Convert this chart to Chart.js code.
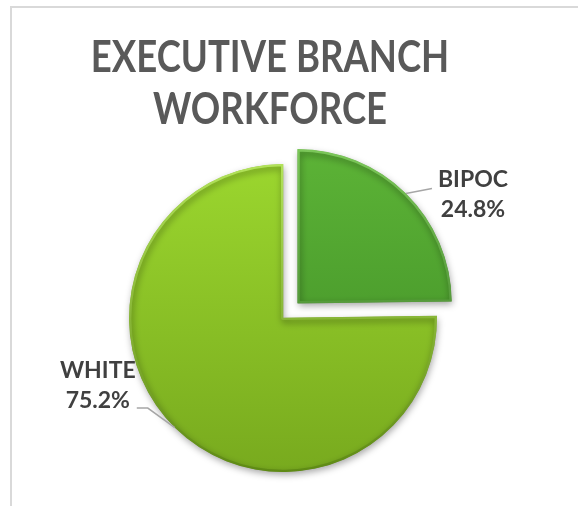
<!DOCTYPE html>
<html>
<head>
<meta charset="utf-8">
<script src="https://cdn.jsdelivr.net/npm/chart.js@4.4.0/dist/chart.umd.min.js"></script>
<style>
    html, body { margin: 0; padding: 0; background: #fff; overflow: hidden; }
    #frame {
        position: absolute; left: 10px; top: 6px;
        width: 700px; height: 700px;
        border: 2px solid #d9d9d9;
    }
    #workforceChart { position: absolute; left: 0; top: 0; }
</style>
</head>
<body>
<div id="frame"></div>
<canvas id="workforceChart" width="578" height="506"></canvas>
<script>
// DATA
const categories = ['BIPOC', 'WHITE'];
const shares = [24.8, 75.2];
const titleLines = ['EXECUTIVE BRANCH', 'WORKFORCE'];

// colours (top / bottom of fill gradient, top / bottom of rim)
const sliceTop = ['#5cb336', '#9bd62e'];
const sliceBottom = ['#3f8c26', '#78aa1e'];
const rimTop = ['#7cc75a', '#b2e25a'];
const rimBottom = ['#2f6e1c', '#5e8a14'];
const PIE_RADIUS = 154;

// label placement, relative to the point on the slice edge
const labelSetup = [
    { elbow: [26, -5], tail: [0, 0], text: [67, -6] },
    { elbow: [-27, -19.5], tail: [-11, 0], text: [-77, -49.5] }
];

function verticalGradient(context, top, bottom) {
    const chart = context.chart;
    const area = chart.chartArea;
    const i = context.dataIndex;
    if (!area) return top[i];
    const cy = (area.top + area.bottom) / 2;
    const g = chart.ctx.createLinearGradient(0, cy - PIE_RADIUS, 0, cy + PIE_RADIUS);
    g.addColorStop(0, top[i]);
    g.addColorStop(1, bottom[i]);
    return g;
}

// two-line title, a bit condensed like the original face
const titlePlugin = {
    id: 'condensedTitle',
    afterDraw(chart) {
        const ctx = chart.ctx;
        ctx.save();
        ctx.fillStyle = '#595959';
        ctx.font = 'bold 44px Lato';
        ctx.textAlign = 'center';
        ctx.textBaseline = 'alphabetic';
        ctx.translate(270, 0);
        ctx.scale(0.83, 1);
        titleLines.forEach((line, i) => {
            ctx.fillText(line, 0, 72 + i * 52);
        });
        ctx.restore();
    }
};

// soft drop shadow under the pie
const shadowPlugin = {
    id: 'pieShadow',
    beforeDatasetsDraw(chart) {
        const ctx = chart.ctx;
        ctx.save();
        ctx.shadowColor = 'rgba(0,0,0,0.35)';
        ctx.shadowBlur = 7;
        ctx.shadowOffsetX = 1;
        ctx.shadowOffsetY = 3;
    },
    afterDatasetsDraw(chart) {
        chart.ctx.restore();
    }
};

// outside labels with leader lines
const labelPlugin = {
    id: 'outsideLabels',
    afterDraw(chart) {
        const ctx = chart.ctx;
        const meta = chart.getDatasetMeta(0);
        meta.data.forEach((arc, i) => {
            const p = arc.getProps(['x', 'y', 'startAngle', 'endAngle', 'outerRadius', 'circumference'], true);
            const mid = (p.startAngle + p.endAngle) / 2;
            // same shift Chart.js applies to an offset arc
            const off = (arc.options.offset || 0) / 4;
            const fix = 1 - Math.sin(Math.min(Math.PI, p.circumference || 0));
            const shift = off + off * fix;
            const ex = p.x + Math.cos(mid) * (p.outerRadius + shift);
            const ey = p.y + Math.sin(mid) * (p.outerRadius + shift);
            const s = labelSetup[i];
            const bx = ex + s.elbow[0], by = ey + s.elbow[1];
            ctx.save();
            ctx.strokeStyle = '#a6a6a6';
            ctx.lineWidth = 1.5;
            ctx.beginPath();
            ctx.moveTo(ex, ey);
            ctx.lineTo(bx, by);
            ctx.lineTo(bx + s.tail[0], by + s.tail[1]);
            ctx.stroke();

            ctx.fillStyle = '#404040';
            ctx.font = 'bold 23px Lato';
            ctx.textAlign = 'center';
            ctx.textBaseline = 'alphabetic';
            const tx = ex + s.text[0];
            const ty = ey + s.text[1];
            const value = chart.data.datasets[0].data[i];
            ctx.fillText(chart.data.labels[i], tx, ty);
            ctx.fillText(value.toFixed(1) + '%', tx, ty + 30);
            ctx.restore();
        });
    }
};

document.addEventListener('DOMContentLoaded', function() {
    const ctx = document.getElementById('workforceChart').getContext('2d');
    new Chart(ctx, {
        type: 'pie',
        data: {
            labels: categories,
            datasets: [{
                data: shares,
                backgroundColor: c => verticalGradient(c, sliceTop, sliceBottom),
                borderColor: c => verticalGradient(c, rimTop, rimBottom),
                borderWidth: 2,
                borderAlign: 'inner',
                offset: [84, 0],
                hoverOffset: 0
            }]
        },
        options: {
            responsive: false,
            animation: false,
            radius: PIE_RADIUS,
            layout: { padding: { left: 0, right: 12, top: 150, bottom: 20 } },
            plugins: {
                legend: { display: false },
                tooltip: { enabled: false },
                title: { display: false }
            }
        },
        plugins: [shadowPlugin, labelPlugin, titlePlugin]
    });
});
</script>
</body>
</html>
